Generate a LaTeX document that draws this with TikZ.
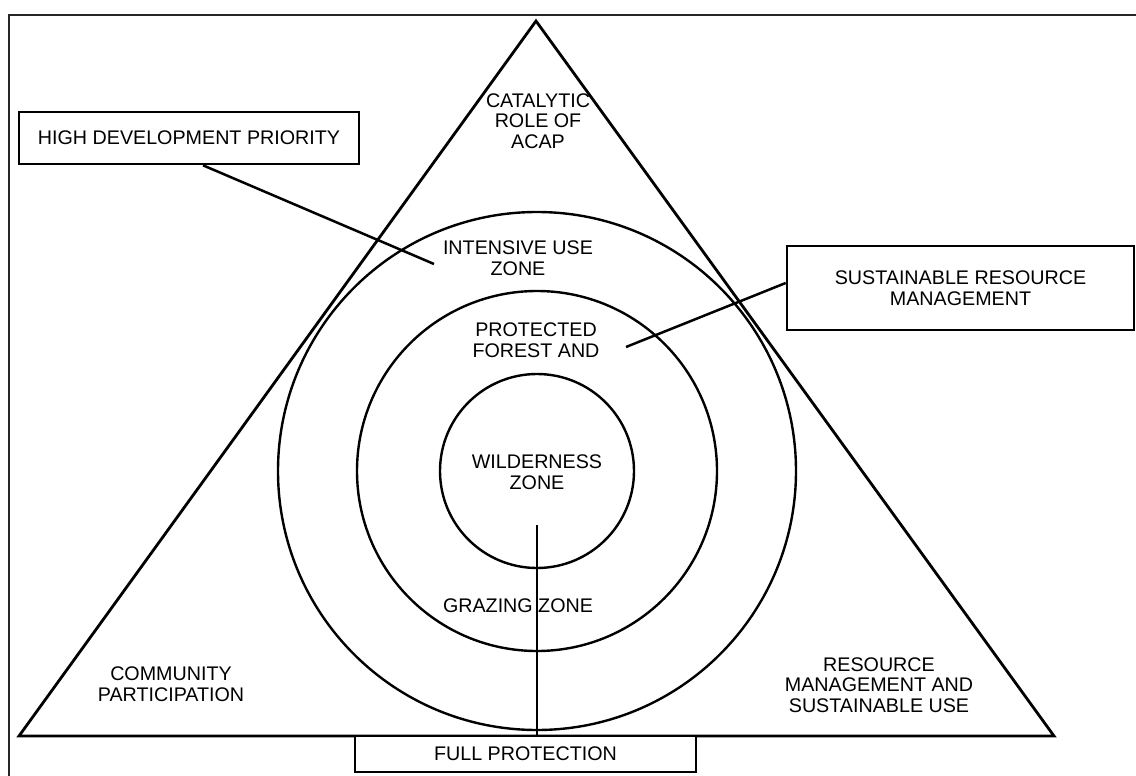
\documentclass[tikz,border=0pt]{standalone}
\usepackage{fontspec}
\setmainfont{Liberation Sans}
\begin{document}
\begin{tikzpicture}[x=1pt,y=-1pt,
  every node/.style={font=\fontsize{19.7}{20.5}\selectfont, align=center, inner sep=0pt},
  shape line/.style={line width=2.8pt, line join=miter},
  ring/.style={line width=2.4pt},
  labelbox/.style={draw, line width=2.6pt},
  leader/.style={line width=2.5pt},
  frame/.style={line width=2.2pt, draw=black!85}]
\useasboundingbox (0,0) rectangle (1136,776);
% frame (partially visible)
\draw[frame] (9,776) -- (9,15) -- (1136,15);
% triangle
\coordinate (apex) at (536,21);
\coordinate (bl) at (19,736);
\coordinate (br) at (1054,736);
\draw[shape line] (apex) -- (br) -- (bl) -- cycle;
% circles
\coordinate (c) at (537,471);
\draw[ring] (c) circle[radius=259];
\draw[ring] (c) circle[radius=180];
\draw[ring] (c) circle[radius=97];
% texts
\node (cat) at (538,121) {CATALYTIC\\ROLE OF\\ACAP};
\node (ius) at (518,258) {INTENSIVE USE\\ZONE};
\node (pfa) at (536,340) {PROTECTED\\FOREST AND};
\node (wz) at (537,472) {WILDERNESS\\ZONE};
\node (gz) at (518,606) {GRAZING ZONE};
\node (cp) at (171,684) {COMMUNITY\\PARTICIPATION};
\node (rm) at (879,685) {RESOURCE\\MANAGEMENT AND\\SUSTAINABLE USE};
% boxes
\node[labelbox, minimum width=340pt, minimum height=52pt] (hdp) at (189,138) {HIGH DEVELOPMENT PRIORITY};
\node[labelbox, minimum width=347pt, minimum height=84pt] (srm) at (960.5,288) {SUSTAINABLE RESOURCE\\MANAGEMENT};
\node[labelbox, minimum width=341pt, minimum height=36pt, fill=white] (fp) at (525.5,754) {FULL PROTECTION};
% leaders
\coordinate (hdpEnd) at (434,264);
\coordinate (srmEnd) at (626,347);
\coordinate (fpTop) at (537,525);
\draw[leader] ([xshift=14pt]hdp.south) -- (hdpEnd);
\draw[leader] ([yshift=5pt]srm.west) -- (srmEnd);
\draw[leader] (fpTop) -- (fpTop |- fp.north);
\end{tikzpicture}
\end{document}
